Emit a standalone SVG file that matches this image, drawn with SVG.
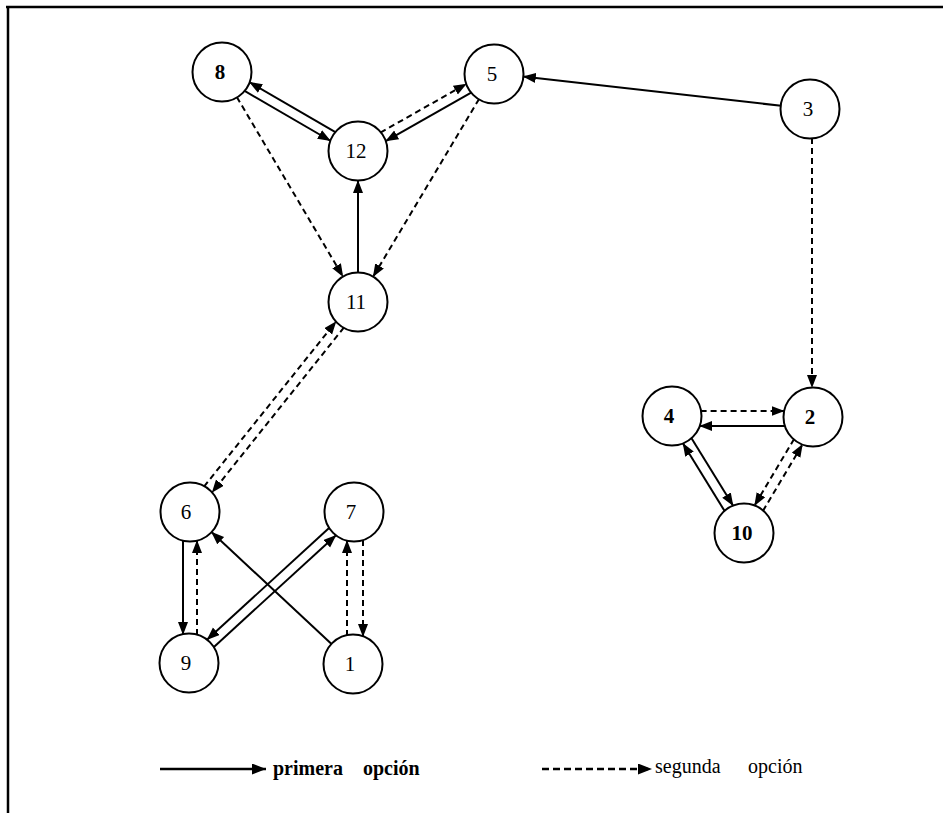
<svg xmlns="http://www.w3.org/2000/svg" width="943" height="813" viewBox="0 0 943 813">
<style>
.node circle{fill:#fff;stroke:#000;stroke-width:2}
.node text{font-family:"Liberation Serif","Times New Roman",serif;font-size:21px;text-anchor:middle;fill:#000}
.b text{font-weight:bold}
.s{stroke:#000;stroke-width:2;fill:none;marker-end:url(#ah)}
.d{stroke:#000;stroke-width:2;fill:none;stroke-dasharray:6,4;marker-end:url(#ah)}
.lg{font-family:"Liberation Serif","Times New Roman",serif;font-size:20px;fill:#000}
</style>
<defs>
<marker id="ah" markerUnits="userSpaceOnUse" markerWidth="14" markerHeight="11" refX="13" refY="5" orient="auto">
<path d="M0,0 L13,5 L0,10 z" fill="#000"/>
</marker>
<marker id="ahL" markerUnits="userSpaceOnUse" markerWidth="15" markerHeight="12" refX="14" refY="5.5" orient="auto">
<path d="M0,0 L14,5.5 L0,11 z" fill="#000"/>
</marker>
</defs>
<rect width="943" height="813" fill="#fff"/>
<g id="border" stroke="#000" stroke-width="2.5" fill="none">
<line x1="6" y1="7" x2="943" y2="7"/>
<line x1="8" y1="6" x2="8" y2="813"/>
</g>
<g id="connectors">
<line class="s" x1="335.8" y1="132.3" x2="249.2" y2="82"/>
<line class="s" x1="244.2" y1="90.7" x2="330.8" y2="141"/>
<line class="d" x1="380.4" y1="132.6" x2="466.7" y2="83.7"/>
<line class="s" x1="471.6" y1="92.4" x2="385.3" y2="141.3"/>
<line class="d" x1="236.8" y1="97" x2="343.2" y2="277"/>
<line class="d" x1="479.1" y1="98.9" x2="372.9" y2="277.1"/>
<line class="s" x1="358" y1="273" x2="358" y2="180"/>
<line class="s" x1="781.2" y1="105.8" x2="522.8" y2="76.5"/>
<line class="d" x1="812" y1="138" x2="812" y2="388"/>
<line class="d" x1="204" y1="486.6" x2="336.3" y2="321.2"/>
<line class="d" x1="344" y1="327.4" x2="211.8" y2="492.8"/>
<line class="s" x1="183" y1="540" x2="183" y2="635"/>
<line class="d" x1="197" y1="635" x2="197" y2="540"/>
<line class="s" x1="331.8" y1="644.2" x2="211.2" y2="531.8"/>
<line class="s" x1="329.6" y1="527.6" x2="206.7" y2="640"/>
<line class="s" x1="213.4" y1="647.4" x2="336.3" y2="535"/>
<line class="d" x1="347" y1="636" x2="347" y2="540"/>
<line class="d" x1="363" y1="540" x2="363" y2="637"/>
<line class="d" x1="700.6" y1="411" x2="784.6" y2="411"/>
<line class="s" x1="785.4" y1="426" x2="699.2" y2="426"/>
<line class="s" x1="691.2" y1="437.7" x2="733.3" y2="506.1"/>
<line class="s" x1="724.8" y1="511.3" x2="682.7" y2="443"/>
<line class="d" x1="794.1" y1="439" x2="754.3" y2="505.9"/>
<line class="d" x1="762.9" y1="511" x2="802.7" y2="444.1"/>
</g>
<g id="n8" class="node b"><circle cx="222" cy="72" r="29.5"/><text x="220" y="79">8</text></g>
<g id="n5" class="node"><circle cx="494" cy="74" r="29.5"/><text x="492" y="81">5</text></g>
<g id="n12" class="node"><circle cx="358" cy="151" r="29.5"/><text x="356" y="158">12</text></g>
<g id="n3" class="node"><circle cx="810" cy="109" r="29.5"/><text x="808" y="116">3</text></g>
<g id="n11" class="node"><circle cx="358" cy="302" r="29.5"/><text x="356" y="309">11</text></g>
<g id="n4" class="node b"><circle cx="672" cy="416" r="29.5"/><text x="669" y="423">4</text></g>
<g id="n2" class="node b"><circle cx="813" cy="417" r="29.5"/><text x="810" y="424">2</text></g>
<g id="n10" class="node b"><circle cx="744" cy="533" r="29.5"/><text x="742" y="540">10</text></g>
<g id="n6" class="node"><circle cx="190" cy="512" r="29.5"/><text x="186" y="519">6</text></g>
<g id="n7" class="node"><circle cx="354" cy="512" r="29.5"/><text x="351" y="519">7</text></g>
<g id="n9" class="node"><circle cx="189" cy="663" r="29.5"/><text x="186" y="670">9</text></g>
<g id="n1" class="node"><circle cx="353" cy="664" r="29.5"/><text x="350" y="671">1</text></g>
<g id="legend">
<line x1="160" y1="769" x2="266" y2="769" stroke="#000" stroke-width="2.5" marker-end="url(#ahL)"/>
<text class="lg" x="273" y="775" font-weight="bold">primera</text>
<text class="lg" x="363" y="775" font-weight="bold">opción</text>
<line x1="542" y1="769" x2="652" y2="769" stroke="#000" stroke-width="2.5" stroke-dasharray="7,4" marker-end="url(#ahL)"/>
<text class="lg" x="655" y="773" font-size="21">segunda</text>
<text class="lg" x="748" y="773" font-size="21">opción</text>
</g>
</svg>
